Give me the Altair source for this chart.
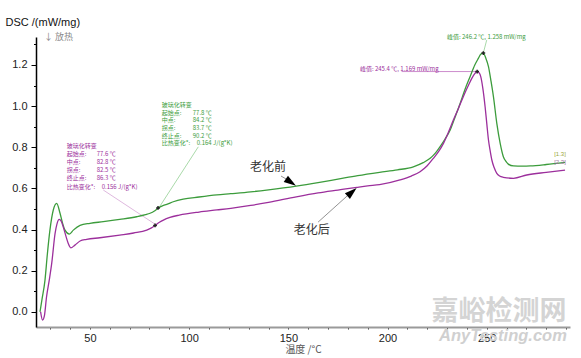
import altair as alt
import pandas as pd

# ---------------- data ----------------
green_T = [24.8, 25.8, 27.3, 28.5, 29.8, 31.5, 33.2, 34.9, 36.2, 37.4, 39.6, 41.6, 45, 50, 56.7, 65, 73.5,
           78, 80.3, 82.5, 84.5, 86.5, 88.7, 92, 97, 105, 114, 121, 131, 140, 154, 165, 175, 185, 196,
           205, 213, 218, 221.5, 224, 226.5, 229, 231.6, 234, 236.6, 239, 241.6, 244, 245.8, 247.0,
           248.3, 249.5, 250.9, 252.2, 253.4, 255.1, 256.8, 258.4, 259.8, 260.9, 263.5, 268, 272, 280, 289.5]
green_v = [0.00, 0.06, 0.153, 0.28, 0.397, 0.495, 0.527, 0.479, 0.43, 0.397, 0.378, 0.397, 0.42, 0.43,
           0.438, 0.449, 0.462, 0.472, 0.479, 0.49, 0.505, 0.515, 0.522, 0.535, 0.548, 0.558, 0.568,
           0.574, 0.583, 0.593, 0.611, 0.628, 0.645, 0.662, 0.678, 0.69, 0.705, 0.725, 0.746, 0.77,
           0.803, 0.84, 0.884, 0.945, 1.013, 1.08, 1.143, 1.2, 1.232, 1.252, 1.258, 1.235, 1.192, 1.12,
           1.046, 0.916, 0.819, 0.754, 0.73, 0.718, 0.709, 0.708, 0.709, 0.716, 0.727]

purple_T = [25.1, 26.1, 27.0, 28.1, 29.4, 30.7, 32.4, 33.3, 34.5, 35.5, 36.5, 37.8, 39, 40.3, 42.4, 45,
            48.3, 55, 65, 72, 78.6, 81, 82.8, 85, 87, 90.3, 95, 105, 114, 121, 131, 140, 154, 165, 175,
            184.5, 190, 196, 206.3, 212, 216.4, 220, 223.1, 225.8, 228.2, 230.8, 233.2, 235.8, 238.2,
            240.5, 242.5, 244, 245.2, 246.3, 247, 248, 249.2, 250.1, 250.9, 251.8, 252.6, 253.8, 255.1,
            256.5, 258.4, 263.5, 270.2, 280, 289.5]
purple_v = [0.00, -0.04, -0.02, 0.073, 0.15, 0.235, 0.381, 0.425, 0.449, 0.44, 0.413, 0.37, 0.333,
            0.311, 0.324, 0.344, 0.352, 0.36, 0.373, 0.383, 0.397, 0.408, 0.42, 0.435, 0.446, 0.459,
            0.47, 0.485, 0.495, 0.503, 0.517, 0.532, 0.559, 0.578, 0.592, 0.605, 0.612, 0.618, 0.641,
            0.66, 0.681, 0.71, 0.746, 0.78, 0.819, 0.875, 0.932, 0.99, 1.046, 1.095, 1.135, 1.158,
            1.168, 1.16, 1.143, 1.09, 0.997, 0.91, 0.835, 0.78, 0.738, 0.7, 0.673, 0.66, 0.654, 0.649,
            0.665, 0.678, 0.689]

GREEN = "#3c9c3c"
PURPLE = "#9c2f9c"

purple_box = ["玻璃化转变", "起始点:", "中点:", "拐点:", "终止点:", "比热变化*:"]
purple_vals = ["", "77.6 ℃", "82.8 ℃", "82.5 ℃", "86.3 ℃", "0.156 J/(g*K)"]
green_box = ["玻璃化转变", "起始点:", "中点:", "拐点:", "终止点:", "比热变化*:"]
green_vals = ["", "77.8 ℃", "84.2 ℃", "83.7 ℃", "90.2 ℃", "0.164 J/(g*K)"]

X0, X1 = 22.78, 292.0
Y0, Y1 = -0.074, 1.336

xscale = alt.Scale(domain=[X0, X1], nice=False, zero=False)
yscale = alt.Scale(domain=[Y0, Y1], nice=False, zero=False)

xaxis = alt.Axis(
    values=list(range(30, 300, 10)),
    labelExpr="datum.value % 50 == 0 ? datum.label : ''",
    labelOverlap=False, labelFlush=False, grid=False,
    domainColor="#9a9a9a", domainWidth=2, tickColor="#333", tickSize=2, tickWidth=1,
    labelFont="Liberation Sans", labelFontSize=11, labelColor="#222", labelPadding=3,
    title="温度 /°C", titleFont="Noto Sans CJK SC", titleFontSize=10, titleFontWeight="normal",
    titleColor="#555", titlePadding=1,
)
yaxis = alt.Axis(
    values=[round(i * 0.1, 1) for i in range(0, 14)],
    labelExpr="abs(round(datum.value*10)) % 2 == 0 ? format(datum.value, '.1f') : ''",
    labelOverlap=False, labelFlush=False, grid=False,
    domainColor="#000", domainWidth=1.5, tickColor="#000", tickWidth=1,
    tickSize={"condition": {"test": "abs(round(datum.value*10)) % 2 == 0", "value": 5}, "value": 2.5},
    labelFont="Liberation Sans", labelFontSize=11, labelColor="#222", labelPadding=4,
    title="DSC /(mW/mg)", titleAngle=0, titleAlign="left", titleBaseline="middle",
    titleX=-31, titleY=-15, titleFont="Liberation Sans", titleFontSize=11,
    titleFontWeight="normal", titleColor="#111",
)


def X(field="T"):
    return alt.X(f"{field}:Q", scale=xscale, axis=xaxis)


def Y(field="v"):
    return alt.Y(f"{field}:Q", scale=yscale, axis=yaxis)


curves = pd.concat([
    pd.DataFrame({"T": green_T, "v": green_v, "s": "before", "i": range(len(green_T))}),
    pd.DataFrame({"T": purple_T, "v": purple_v, "s": "after", "i": range(len(purple_T))}),
])

lines = alt.Chart(curves).mark_line(strokeWidth=1.3, interpolate="monotone").encode(
    x=X(), y=Y(), order="i:Q",
    color=alt.Color("s:N", scale=alt.Scale(domain=["before", "after"], range=[GREEN, PURPLE]), legend=None),
)

# leader lines
rules_df = pd.DataFrame([
    {"T": 104.6, "v": 0.802, "T2": 84.3, "v2": 0.499, "c": "#93cf93"},
    {"T": 56.7, "v": 0.592, "T2": 82.8, "v2": 0.426, "c": "#d6a6d6"},
    {"T": 250.0, "v": 1.321, "T2": 248.3, "v2": 1.258, "c": "#93cf93"},
    {"T": 207.1, "v": 1.168, "T2": 245.1, "v2": 1.168, "c": "#c070c0"},
    {"T": 146.3, "v": 0.660, "T2": 150.8, "v2": 0.635, "c": "#777"},
    {"T": 165.0, "v": 0.436, "T2": 180.1, "v2": 0.567, "c": "#777"},
])
rules = alt.Chart(rules_df).mark_rule(strokeWidth=0.8).encode(
    x=X(), y=Y(), x2="T2:Q", y2="v2:Q", color=alt.Color("c:N", scale=None),
)

# small text annotations
rows = []
pv = [0.806, 0.767, 0.728, 0.689, 0.650, 0.608]
for k in range(6):
    rows.append({"T": 38.26, "v": pv[k], "t": purple_box[k], "c": PURPLE})
    if purple_vals[k]:
        rows.append({"T": 55.9 if k == 5 else 53.38, "v": pv[k], "t": purple_vals[k], "c": PURPLE})
gv = [1.005, 0.967, 0.932, 0.894, 0.856, 0.819]
for k in range(6):
    rows.append({"T": 86.15, "v": gv[k], "t": green_box[k], "c": GREEN})
    if green_vals[k]:
        rows.append({"T": 103.8 if k == 5 else 101.8, "v": gv[k], "t": green_vals[k], "c": GREEN})
rows.append({"T": 230.0, "v": 1.335, "t": "峰值: 246.2 ℃, 1.258 mW/mg", "c": GREEN})
rows.append({"T": 186.1, "v": 1.178, "t": "峰值: 245.4 ℃, 1.169 mW/mg", "c": PURPLE})
small = alt.Chart(pd.DataFrame(rows)).mark_text(
    align="left", baseline="middle", fontSize=6, font="Noto Sans CJK SC", lineHeight=7,
).encode(x=X(), y=Y(), text="t:N", color=alt.Color("c:N", scale=None))

seg_df = pd.DataFrame([
    {"T": 286.96, "v": 0.767, "t": "[1.3]", "c": "#9aa83a"},
    {"T": 286.96, "v": 0.726, "t": "[2.3]", "c": "#a070a0"},
])
seg = alt.Chart(seg_df).mark_text(align="center", baseline="middle", fontSize=6,
                                  font="Liberation Sans").encode(
    x=X(), y=Y(), text="t:N", color=alt.Color("c:N", scale=None))

exo = alt.Chart(pd.DataFrame([{"T": 26.8, "v": 1.334, "t": "↓ 放热"}])).mark_text(
    align="left", baseline="middle", fontSize=9, font="Noto Sans CJK SC", color="#888",
).encode(x=X(), y=Y(), text="t:N")

big_df = pd.DataFrame([
    {"T": 139.7, "v": 0.703, "t": "老化前"},
    {"T": 161.8, "v": 0.397, "t": "老化后"},
])
big = alt.Chart(big_df).mark_text(
    align="center", baseline="middle", fontSize=12, font="Noto Sans CJK SC", color="#333",
).encode(x=X(), y=Y(), text="t:N")

tri_df = pd.DataFrame([
    {"T": 151.3, "v": 0.630, "a": 124},
    {"T": 182.1, "v": 0.582, "a": 48.6},
])
tris = alt.Chart(tri_df).mark_point(
    shape="M 0 -1 L 0.62 1 L -0.62 1 Z", filled=True, color="#000", opacity=1, size=150,
).encode(x=X(), y=Y(), angle=alt.Angle("a:Q", scale=None))

mk_df = pd.DataFrame([
    {"T": 84.3, "v": 0.505}, {"T": 82.8, "v": 0.42},
    {"T": 248.3, "v": 1.258}, {"T": 245.2, "v": 1.168},
])
marks = alt.Chart(mk_df).mark_point(shape="cross", filled=True, color="#222", size=14,
                                    opacity=1).encode(x=X(), y=Y())

wm_df = pd.DataFrame([{"T": 256.2, "v": -0.002, "t": "嘉峪检测网"}])
wm = alt.Chart(wm_df).mark_text(
    align="center", baseline="middle", fontSize=27, font="Noto Sans CJK SC",
    fontWeight="bold", color="#d4d4d4",
).encode(x=X(), y=Y(), text="t:N")
wm2_df = pd.DataFrame([{"T": 258.2, "v": -0.119, "t": "AnyTesting.com"}])
wm2 = alt.Chart(wm2_df).mark_text(
    align="center", baseline="middle", fontSize=16.5, font="Liberation Sans",
    fontWeight="bold", fontStyle="italic", color="#d0d0d0",
).encode(x=X(), y=Y(), text="t:N")

chart = alt.layer(wm, wm2, rules, lines, small, seg, exo, big, tris, marks).properties(
    width=534, height=290,
    autosize=alt.AutoSizeParams(type="none"),
    padding={"left": 36, "top": 37, "right": 11, "bottom": 31},
    background="white",
).configure_view(stroke=None)

chart.save("out.html", embed_options={"renderer": "svg", "actions": False})
